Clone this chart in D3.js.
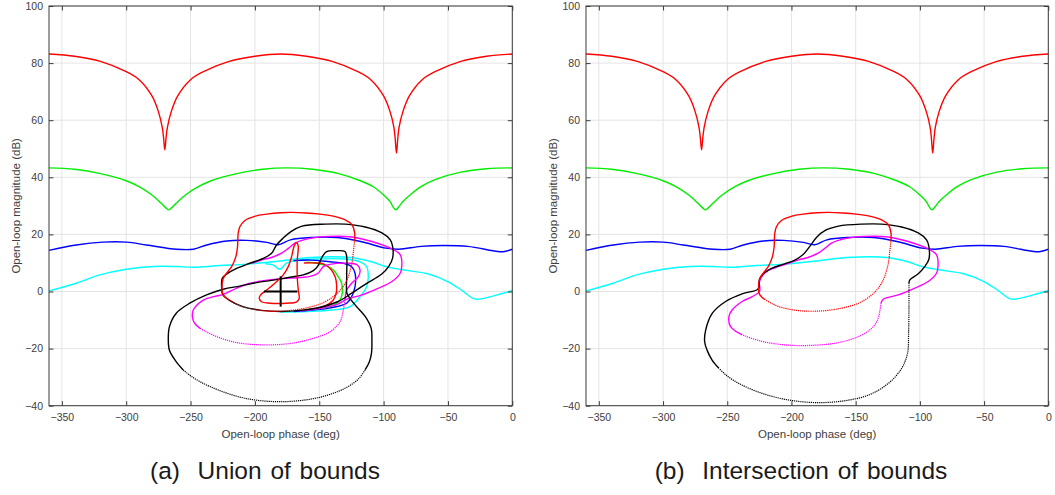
<!DOCTYPE html>
<html><head><meta charset="utf-8">
<script src="https://cdn.jsdelivr.net/npm/d3@7"></script>
<style>body{margin:0;background:#fff;} svg{display:block;font-family:"Liberation Sans",Arial,Helvetica,sans-serif;}</style>
</head><body>
<svg id="c" width="1055" height="495"></svg>
<script>
// ---------- data (phase deg, magnitude dB) ----------
const xTicks = [-350,-300,-250,-200,-150,-100,-50,0];
const yTicks = [-40,-20,0,20,40,60,80,100];
const captions = ["(a)  Union of bounds", "(b)  Intersection of bounds"];
const xLabel = "Open-loop phase (deg)";
const yLabel = "Open-loop magnitude (dB)";

const redTop = [[-360,83.2],[-340,82.4],[-320,80.6],[-300,77.0],[-290,74.2],[-280,68.5],[-275,63.0],[-272,57.5],[-271,54],[-270,49.6],[-269,54],[-268,57.5],[-265,63.0],[-260,68.5],[-250,74.2],[-240,77.0],[-220,80.6],[-200,82.4],[-180,83.2],[-160,82.4],[-140,80.6],[-120,77.0],[-110,74.2],[-100,68.5],[-95,63.0],[-92,57.5],[-91,53.5],[-90,48.5],[-89,53.5],[-88,57.5],[-85,63.0],[-80,68.5],[-70,74.2],[-60,77.0],[-40,80.6],[-20,82.4],[0,83.2]];
const greenTop = [[-360,43.3],[-340,42.8],[-320,41.3],[-300,38.8],[-290,36.7],[-280,33.8],[-273,31.0],[-269,29.2],[-267,28.6],[-265,29.2],[-261,31.0],[-254,33.8],[-244,36.7],[-234,38.8],[-214,41.3],[-194,42.8],[-175,43.3],[-155,42.8],[-135,41.3],[-118,38.8],[-108,36.7],[-100,33.8],[-95,31.5],[-92.5,29.5],[-90.5,28.6],[-88.5,29.5],[-85,31.5],[-79,34.0],[-70,37.0],[-60,39.2],[-40,41.8],[-20,43.0],[0,43.3]];
const blueLine = [[-360,14.4],[-338.8,16.3],[-318,17.3],[-299.8,17.3],[-284.2,16.3],[-260.8,14.8],[-247.8,14.8],[-237.4,16.3],[-221.8,17.7],[-206.2,17.9],[-190.6,17.2],[-182,16.4],[-172.4,18.1],[-156.8,18.9],[-136,18.9],[-117.8,17.5],[-98.3,15.2],[-87.9,14.8],[-71,15.8],[-52.8,16.1],[-34.6,15.8],[-11.2,14.0],[-6,14.0],[0,14.8]];
const cyanLine = [[-360,0.2],[-338.8,2.9],[-320.6,5.8],[-299.8,7.8],[-279,8.75],[-260.8,8.75],[-247.8,8.5],[-227,9.1],[-206.2,9.6],[-180.2,10.7],[-156.8,11.9],[-125.6,11.9],[-110,10.5],[-98.3,8.75],[-85.3,7.6],[-65.8,6.2],[-50.2,3.5],[-39.8,0.6],[-29.4,-2.6],[-21.6,-2.3],[-8.6,-0.8],[0,0.35]];

// red bound (same in both panels)
const redBoundSolid = [[-220.3,-2.9],[-223.2,-1.9],[-225.2,-0.6],[-225.6,1.2],[-225.4,2.9],[-224.6,4.6],[-222,6.4],[-218.1,8.7],[-214.8,12.2],[-213.5,15.7],[-213,20.4],[-211.7,22.7],[-208,24.8],[-199.6,26.4],[-190.9,27.1],[-180,27.6],[-171,27.7],[-160,27.5],[-149.5,27.1],[-140.1,26.5],[-129.8,25.1],[-124.6,23.4],[-122.5,20.5],[-122.6,17.5]];
const redBoundDotted = [[-122.6,17.5],[-123.3,14.6],[-125.1,8.8],[-129.8,2.9],[-137.5,-1.2],[-147.9,-4.1],[-160.8,-5.8],[-176.3,-6.8],[-194.4,-6.7],[-209.9,-5.3],[-216.5,-3.9],[-220.3,-2.9]];

// union panel
const uRedFlag = [[-168.1,17.1],[-169.7,15.7],[-171.5,12.2],[-174.1,8.7],[-178,5.8],[-184.5,2.9],[-190.9,0.5],[-195.6,-1.2],[-196.6,-2.4],[-194.8,-3.6],[-188.3,-4.1],[-175.4,-4.1],[-167.6,-3.6],[-165.6,-2.4],[-166.3,0.5],[-167.1,5.2],[-167.1,11.0],[-166.3,15.7],[-167.1,16.9],[-168.1,17.1]];
const uRedArc = [[-162,10.0],[-152,10.0],[-146.8,9.7],[-141,7.8],[-137.5,5.0],[-136.5,2.0],[-136.8,-0.5],[-139.1,-3.0],[-146.8,-5.3],[-158,-6.3]];
const uGreenArc = [[-160,10.3],[-152,9.9],[-144.3,9.0],[-139,7.5],[-135,5.0],[-132.6,2.9],[-132.1,-0.6],[-133.9,-3.0],[-140,-5.0],[-150,-6.0],[-160,-6.5]];
const uBlueArc = [[-170,10.8],[-157.2,11.0],[-141.7,10.4],[-131.3,9.9],[-124.8,8.7],[-122.2,6.4],[-122.2,1.7],[-124.8,-1.8],[-128.7,-4.1],[-140,-5.6],[-155,-6.5],[-170,-7.0]];
const uCyanLoop = [[-192,9.7],[-186,9.3],[-180.5,7.8],[-175.4,9.9],[-165,11.0],[-150,11.4],[-130,11.4],[-118.3,10.4],[-113.2,8.7],[-111.9,5.2],[-113.2,1.7],[-118.3,-1.8],[-126.1,-5.3],[-140,-6.5],[-160,-7.0],[-180,-7.2]];
const uMagUpper = [[-202.2,9.9],[-194.4,11.1],[-186.6,12],[-178.9,13.5],[-173.7,15.2],[-168.5,17],[-158.2,18.5],[-142.7,19.3],[-124.6,19.1],[-109.1,17.5],[-93.5,14.9],[-87.1,12.9],[-85.8,9.4],[-87.1,6.4],[-93.5,3.5],[-103.9,1.2],[-116.8,-1.2],[-128.5,-2.7],[-136,-4.5],[-150,-6.0],[-165,-6.8]];
const uMagLobeSolid = [[-242.7,-12.9],[-246.5,-11.3],[-248.4,-9.4],[-247.9,-6.5],[-240.1,-3],[-232,-1.8],[-224.6,-1.0],[-214,1.2],[-203.8,2.9],[-183.1,4.3],[-165,4.9],[-157.1,5.3],[-150.7,6.5],[-146.8,8.7],[-141.7,9.5],[-128.7,9.9],[-120.4,9.3],[-118.3,7.5],[-119.6,5.2],[-124.8,2.9],[-128.7,0.5],[-130,-3]];
const uMagLobeDotted = [[-130,-3],[-131.3,-6.5],[-133.9,-10.6],[-141.7,-14.1],[-154.6,-16.4],[-172.7,-18.2],[-193.5,-18.7],[-214.2,-17.9],[-229.7,-15.8],[-238.5,-14.0],[-242.7,-12.9]];
const uBlackUpper = [[-225.6,0],[-225.4,4.6],[-222,6.1],[-214.2,8.1],[-203.9,9.9],[-193.5,11.6],[-187,13.4],[-183.2,16.3],[-178,18.7],[-172,21],[-163.4,22.9],[-145.3,23.6],[-129.8,23.6],[-114.2,22.6],[-101.3,20.5],[-94.8,18.1],[-93,15.8],[-93,11.7],[-96,8.8],[-101.2,6.2],[-114.3,2.5],[-124.8,-0.6],[-135.3,-3.5],[-150,-5.6],[-165,-6.6],[-180,-7.0],[-195,-6.6],[-210,-5.2],[-220,-3.0],[-224.8,-1.2],[-225.6,0]];
const uBlackLobeSolid = [[-255.9,-27.4],[-261.5,-24.4],[-266.4,-20.6],[-267.3,-16.9],[-266.4,-12.3],[-261.1,-7.6],[-250.6,-4.1],[-237.6,-1.2],[-224.6,0.8],[-211.7,1.9],[-198.7,3.1],[-185.8,4.0],[-172.8,5.0],[-162.4,5.8],[-154.6,7.3],[-151,9],[-148.1,11.8],[-144.3,14.0],[-136.5,14.3],[-130,14.0],[-128.7,12.2],[-128.7,5.2],[-128.5,-0.6],[-126.1,-2.4],[-121,-5.3],[-114.3,-8.75],[-109.6,-13],[-109.1,-17],[-109.4,-21.6],[-111.2,-24.8],[-114.3,-27.4]];
const uBlackLobeDotted = [[-114.3,-27.4],[-119.5,-30.6],[-130,-33.9],[-151,-37.2],[-179.8,-38.6],[-208.7,-37.3],[-234.9,-33.3],[-248.5,-30.0],[-255.9,-27.4]];
const crossCenter = [-180,0];
const crossHalf = [13,5.3];

// intersection panel
const iMagSolid = [[-238.4,-15.2],[-247.4,-12.3],[-248.7,-8.8],[-246.1,-6.4],[-238.4,-3.5],[-230.6,-1.8],[-224.9,0],[-224.9,3.5],[-220.3,6.7],[-212.5,8.4],[-202.2,9.9],[-194.4,11.1],[-186.6,12],[-178.9,13.5],[-173.7,15.2],[-168.5,17],[-158.2,18.5],[-142.7,19.3],[-124.6,19.1],[-109.1,17.5],[-93.5,14.9],[-87.1,12.9],[-85.8,9.4],[-87.1,6.4],[-93.5,3.5],[-103.9,1.2],[-116.8,-1.2],[-128.5,-2.7],[-130.3,-4.1]];
const iMagDotted = [[-130.3,-4.1],[-131,-6.4],[-132.9,-9.9],[-137.5,-12.9],[-147.9,-15.8],[-163.4,-17.9],[-181.5,-18.8],[-202.2,-18.8],[-222.8,-17.5],[-238.4,-15.2]];
const iBlackSolid = [[-256.5,-26.9],[-261.8,-24.0],[-265.5,-20.8],[-267.6,-17.6],[-266.8,-13.5],[-261.6,-7.6],[-251.3,-3.5],[-238.4,-0.8],[-226.7,0.6],[-225.2,1.5],[-224.9,4.3],[-221.6,6.4],[-215.1,8.2],[-206,9.6],[-197,11.1],[-190.5,13.1],[-185.4,16],[-180.2,19.1],[-173.7,21.4],[-163.4,22.9],[-145.3,23.6],[-129.8,23.6],[-114.2,22.6],[-101.3,20.5],[-94.8,18.1],[-93,15.8],[-93,11.3],[-96.1,8.8],[-101.3,6.2],[-107.8,4.1],[-108.5,2.9]];
const iBlackDotted = [[-108.5,2.9],[-108.5,-5.3],[-108.8,-14.6],[-109.6,-21.6],[-114.2,-26.9],[-124.6,-32.2],[-140.1,-36.3],[-160.8,-38.4],[-181.5,-38.9],[-202.2,-38],[-222.8,-35.7],[-241,-32.2],[-250.5,-29.4],[-256.5,-26.9]];

// ---------- drawing ----------
const svg = d3.select("#c");
const C = {red:"#ff0000", green:"#00ee00", blue:"#0000ff", cyan:"#00ffff", mag:"#ff00ff", black:"#000000"};

const panels = [
  {x0:49, x1:512.3, cap:captions[0], capX:265,
   series:[
     [cyanLine,C.cyan,0],[blueLine,C.blue,0],[greenTop,C.green,0],[redTop,C.red,0],
     [uCyanLoop,C.cyan,0],[uBlueArc,C.blue,0],[uGreenArc,C.green,0],[uRedArc,C.red,0],
     [uMagUpper,C.mag,0],[uMagLobeSolid,C.mag,0],[uMagLobeDotted,C.mag,1],
     [uBlackUpper,C.black,0],[uBlackLobeSolid,C.black,0],[uBlackLobeDotted,C.black,1],
     [redBoundSolid,C.red,0],[redBoundDotted,C.red,1],[uRedFlag,C.red,0]
   ], cross:true},
  {x0:586, x1:1048.3, cap:captions[1], capX:801,
   series:[
     [cyanLine,C.cyan,0],[blueLine,C.blue,0],[greenTop,C.green,0],[redTop,C.red,0],
     [iMagSolid,C.mag,0],[iMagDotted,C.mag,1],
     [iBlackSolid,C.black,0],[iBlackDotted,C.black,1],
     [redBoundSolid,C.red,0],[redBoundDotted,C.red,1]
   ], cross:false}
];
const yTop = 6, yBot = 405.7;
const axisCol = "#3a3a3a", txtCol = "#404040", gridCol = "#e4e4e4";

panels.forEach(p => {
  const x = d3.scaleLinear().domain([-360,0]).range([p.x0,p.x1]);
  const y = d3.scaleLinear().domain([-40,100]).range([yBot,yTop]);
  const g = svg.append("g");
  // grid
  g.append("g").selectAll("line").data(xTicks).join("line")
    .attr("x1",d=>x(d)).attr("x2",d=>x(d)).attr("y1",yTop).attr("y2",yBot)
    .attr("stroke",gridCol).attr("stroke-width",1);
  g.append("g").selectAll("line").data(yTicks).join("line")
    .attr("y1",d=>y(d)).attr("y2",d=>y(d)).attr("x1",p.x0).attr("x2",p.x1)
    .attr("stroke",gridCol).attr("stroke-width",1);
  // curves
  const line = d3.line().x(d=>x(d[0])).y(d=>y(d[1])).curve(d3.curveCatmullRom.alpha(0.5));
  const cg = g.append("g");
  p.series.forEach(([data,col,dotted]) => {
    cg.append("path").attr("d",line(data)).attr("fill","none").attr("stroke",col)
      .attr("stroke-width", dotted?1.2:1.4)
      .attr("stroke-dasharray", dotted?"1.2,0.9":null)
      .attr("stroke-linejoin","round");
  });
  if (p.cross) {
    const [cx,cy] = crossCenter, [hx,hy] = crossHalf;
    cg.append("line").attr("x1",x(cx-hx)).attr("x2",x(cx+hx)).attr("y1",y(cy)).attr("y2",y(cy))
      .attr("stroke","#000").attr("stroke-width",2);
    cg.append("line").attr("x1",x(cx)).attr("x2",x(cx)).attr("y1",y(cy-hy)).attr("y2",y(cy+hy))
      .attr("stroke","#000").attr("stroke-width",2);
  }
  // axes
  const ax = d3.axisBottom(x).tickValues(xTicks).tickSize(-4.5).tickPadding(8).tickFormat(d3.format("d"));
  const axT = d3.axisTop(x).tickValues(xTicks).tickSize(-4.5).tickFormat("");
  const ay = d3.axisLeft(y).tickValues(yTicks).tickSize(-4.5).tickPadding(6).tickFormat(d3.format("d"));
  const ayR = d3.axisRight(y).tickValues(yTicks).tickSize(-4.5).tickFormat("");
  const style = sel => { sel.selectAll("path,line").attr("stroke",axisCol);
    sel.selectAll("text").attr("fill",txtCol).style("font-size","10.5px").style("font-family",'"Liberation Sans",Arial,sans-serif'); sel.attr("font-size",null); };
  g.append("g").attr("transform",`translate(0,${yBot})`).call(ax).call(style).call(s=>s.select(".domain").remove());
  g.append("g").attr("transform",`translate(0,${yTop})`).call(axT).call(style).call(s=>s.select(".domain").remove());
  g.append("g").attr("transform",`translate(${p.x0},0)`).call(ay).call(style).call(s=>s.select(".domain").remove());
  g.append("g").attr("transform",`translate(${p.x1},0)`).call(ayR).call(style).call(s=>s.select(".domain").remove());
  g.append("rect").attr("x",p.x0).attr("y",yTop).attr("width",p.x1-p.x0).attr("height",yBot-yTop)
    .attr("fill","none").attr("stroke",axisCol).attr("stroke-width",1);
  // labels
  g.append("text").attr("x",(p.x0+p.x1)/2).attr("y",438).attr("text-anchor","middle")
    .attr("fill",txtCol).style("font-size","11.5px").text(xLabel);
  g.append("text").attr("transform",`translate(${p.x0-29},${(yTop+yBot)/2}) rotate(-90)`)
    .attr("text-anchor","middle").attr("fill",txtCol).style("font-size","11.5px").text(yLabel);
  g.append("text").attr("x",p.capX).attr("y",479).attr("text-anchor","middle")
    .attr("fill","#1a1a1a").style("font-size","24.5px").style("word-spacing","2px").attr("xml:space","preserve").text(p.cap);
});
</script>
</body></html>
